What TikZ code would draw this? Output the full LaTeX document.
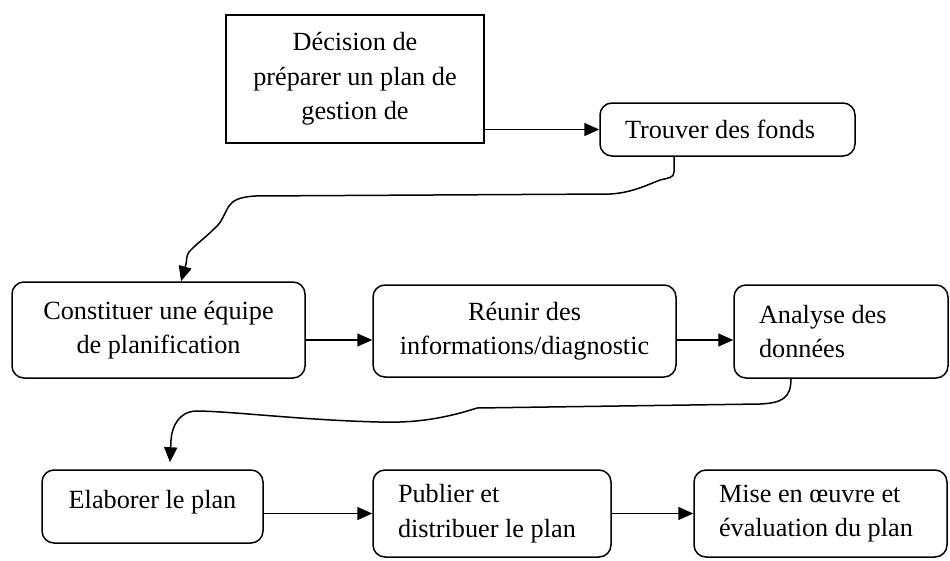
\documentclass[tikz,border=0pt]{standalone}
\usepackage{fontspec}
\setmainfont{Liberation Serif}
\usetikzlibrary{arrows.meta}

\begin{document}
\begin{tikzpicture}[x=1pt,y=-1pt,
  boite/.style={draw,line width=1.5pt,inner sep=0pt,font=\fontsize{26.25}{34.5}\selectfont},
  etape/.style={boite,rounded corners=12pt},
  fleche/.style={line width=1.5pt,-{Triangle[length=15pt,width=13pt]}}]
\useasboundingbox (0,0) rectangle (950,560);
\node[boite,minimum width=258pt,minimum height=128pt,align=center] (decision) at (355,79) {Décision de\\préparer un plan de\\gestion de};
\node[etape,minimum width=255pt,minimum height=53pt,text width=205pt,align=flush left] (fonds) at (727.5,129.5) {Trouver des fonds};
\node[etape,minimum width=293pt,minimum height=96pt,align=center] (equipe) at (158.5,330) {Constituer une équipe\\de planification};
\node[etape,minimum width=303pt,minimum height=92pt,align=center] (reunir) at (524.5,331) {Réunir des\\informations/diagnostic};
\node[etape,minimum width=214pt,minimum height=93pt,text width=164pt,align=flush left] (analyse) at (841,331.5) {Analyse des\\données};
\node[etape,minimum width=221pt,minimum height=73pt,text depth=14pt,align=center] (elaborer) at (152.5,506.5) {Elaborer le plan};
\node[etape,minimum width=238pt,minimum height=87pt,text width=188pt,align=flush left] (publier) at (492,513.5) {Publier et\\distribuer le plan};
\node[etape,minimum width=253pt,minimum height=87pt,text width=203pt,align=flush left] (mise) at (820.5,513.5) {Mise en œuvre et\\évaluation du plan};
\coordinate (bas1) at ([xshift=-53.5pt]fonds.south);
\coordinate (haut1) at ([xshift=22.5pt]equipe.north);
\coordinate (bas2) at ([xshift=-50pt]analyse.south);
\coordinate (haut2) at ([xshift=17.5pt,yshift=7pt]elaborer.north);
\draw[fleche] (decision.east |- fonds.west) -- (fonds.west);
\draw[fleche] ([yshift=-10pt]equipe.east) -- ([yshift=-9pt]reunir.west);
\draw[fleche] ([yshift=-9pt]reunir.east) -- ([yshift=-8.5pt]analyse.west);
\draw[fleche] (elaborer.east |- publier.west) -- (publier.west);
\draw[fleche] (publier.east) -- (mise.west);
\draw[fleche] (bas1) -- (674,172) .. controls (674,178) and (668,178) .. (660,180) .. controls (645,186) and (630,193) .. (610,194) -- (255,196) .. controls (240,197) and (233,200) .. (229,206) .. controls (224,214) and (222,222) .. (215,228) .. controls (205,238) and (195,245) .. (189,252) .. controls (186,256) and (187,260) .. (186,264) -- (haut1);
\draw[fleche] (bas2) .. controls (791,398) and (782,403) .. (760,404) -- (477,408) .. controls (440,420) and (410,423) .. (379,422) .. controls (300,420) and (230,411) .. (195,411) .. controls (180,412) and (172,425) .. (171,440) -- (haut2);
\end{tikzpicture}
\end{document}
